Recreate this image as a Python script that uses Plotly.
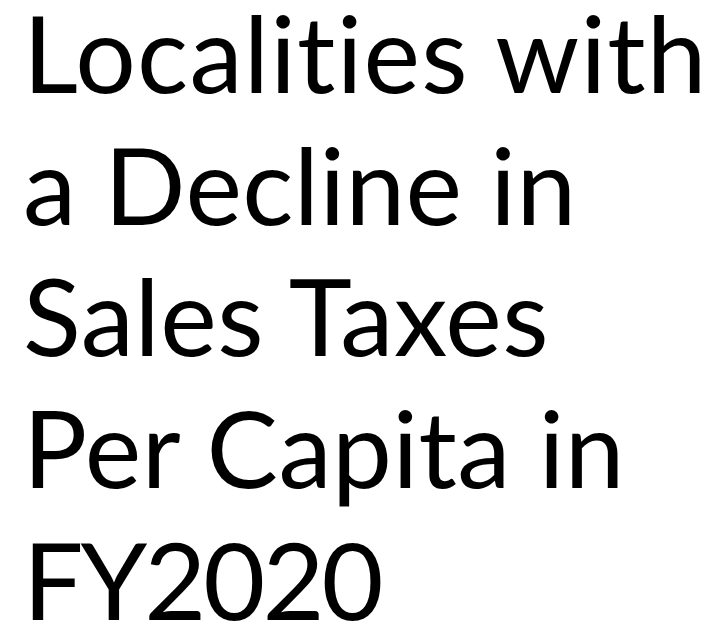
import plotly.graph_objects as go

# Title text lines (the reference is a text-only title slide)
title_lines = ["Localities with", "a Decline in", "Sales Taxes", "Per Capita in", "FY2020"]
line_centers = [43, 175, 306, 438, 570]      # pixel rows (top = 0)
letter_spacing = [1.2, 0.4, 0.5, 0.4, -3.0]  # px, to approximate the original face's widths

W, H = 719, 629
fig = go.Figure()
fig.add_trace(go.Scatter(x=[0], y=[0], mode="markers", marker=dict(opacity=0), hoverinfo="skip", showlegend=False))

for txt, yc, ls in zip(title_lines, line_centers, letter_spacing):
    fig.add_annotation(
        x=13, y=yc, xref="x", yref="y",
        text='<span style="letter-spacing:%.1fpx">%s</span>' % (ls, txt), showarrow=False,
        xanchor="left", yanchor="middle",
        font=dict(family="Lato", size=107, color="#000000"),
    )

fig.update_layout(
    width=W, height=H,
    margin=dict(l=0, r=0, t=0, b=0),
    paper_bgcolor="white", plot_bgcolor="white",
    xaxis=dict(range=[0, W], visible=False, fixedrange=True),
    yaxis=dict(range=[H, 0], visible=False, fixedrange=True),
    showlegend=False,
)
fig.write_html("out.html")
